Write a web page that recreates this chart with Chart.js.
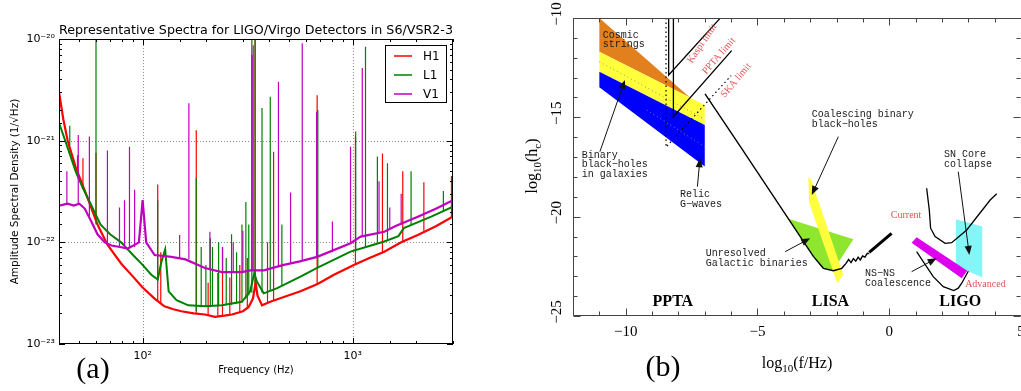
<!DOCTYPE html>
<html><head><meta charset="utf-8">
<script src="https://cdn.jsdelivr.net/npm/chart.js@4.4.0/dist/chart.umd.min.js"></script>
<style>
html,body{margin:0;padding:0;background:#fff;width:1021px;height:391px;overflow:hidden;}
#wa{position:absolute;left:0;top:0;width:470px;height:391px;}
#wb{position:absolute;left:470px;top:0;width:551px;height:391px;}
</style></head><body>
<div id="wa"><canvas id="ca"></canvas></div>
<div id="wb"><canvas id="cb"></canvas></div>
<script>
// ---------------- Panel (a) data ----------------
const H1_FREQ = [40,42,44,48,52,56,61,68,79,90,100,114,127,140,153,175,198,221,245,266,300,319,335,345,352,370,405,470,564,680,814,1012,1200,1413,1700,2040,2500,3000];
const H1_ASD  = [3.0e-21,1.6e-21,1.0e-21,5.5e-22,3.6e-22,2.4e-22,1.5e-22,9.5e-23,6.2e-23,4.6e-23,3.6e-23,2.8e-23,2.35e-23,2.2e-23,2.1e-23,2.0e-23,1.95e-23,1.85e-23,1.9e-23,1.95e-23,2.1e-23,2.3e-23,2.8e-23,4.0e-23,3.0e-23,2.4e-23,2.6e-23,2.9e-23,3.3e-23,3.9e-23,4.8e-23,6.0e-23,7.0e-23,8.1e-23,1.0e-22,1.18e-22,1.45e-22,1.8e-22];
const L1_FREQ = [40,44,48,52,56,63,70,79,90,100,110,118,123,128,133,145,165,200,238,297,325,340,350,377,437,564,677,976,1200,1413,1650,1750,2362,3000];
const L1_ASD  = [1.5e-21,8.5e-22,5.0e-22,3.4e-22,2.5e-22,1.5e-22,1.2e-22,1.0e-22,7.5e-23,6.0e-23,4.8e-23,4.3e-23,6.5e-23,8.5e-23,3.3e-23,2.7e-23,2.4e-23,2.35e-23,2.4e-23,2.6e-23,3.3e-23,5.0e-23,4.1e-23,3.15e-23,3.55e-23,4.6e-23,5.6e-23,8.1e-23,9.2e-23,1.02e-22,1.15e-22,1.38e-22,1.79e-22,2.24e-22];
const V1_FREQ = [40,44,47,50,53,57,61,66,71,78,85,92,96,100,104,114,137,160,198,238,297,325,377,470,560,677,976,1090,1413,1600,2040,2500,3000];
const V1_ASD  = [2.3e-22,2.4e-22,2.3e-22,2.4e-22,2.15e-22,1.6e-22,1.2e-22,1.0e-22,9.3e-23,9.0e-23,8.7e-23,9.5e-23,1.0e-22,2.6e-22,1.0e-22,7.5e-23,7.2e-23,6.8e-23,5.6e-23,5.1e-23,5.1e-23,5.3e-23,5.3e-23,6.0e-23,6.5e-23,7.2e-23,9.8e-23,1.14e-22,1.27e-22,1.45e-22,1.79e-22,2.15e-22,2.6e-22];
// spectral lines: [frequency, floor, peak]
const H1_LINES = [[49,4.5e-22,7.2e-22],[52,3.6e-22,6.7e-22],[60,1.6e-22,7.6e-22],[118,2.6e-23,3.7e-22],[122,2.5e-23,8e-23],[180,2.0e-23,1.27e-21],[205,1.9e-23,4e-23],[228,1.9e-23,5e-23],[240,1.9e-23,9e-23],[260,1.95e-23,4.5e-23],[290,2.05e-23,6e-23],[315,2.3e-23,7e-23],[343,3.5e-23,1.2e-20],[393,2.5e-23,1e-22],[420,2.7e-23,7.8e-22],[677,3.9e-23,2.8e-21],[1030,6e-23,1.1e-21],[1385,8e-23,7.5e-22],[1730,1e-22,5e-22],[2180,1.3e-22,3.9e-22],[2950,1.75e-22,4.5e-22]];
const L1_LINES = [[45,9e-22,1.4e-21],[60,1.5e-22,1.2e-20],[118,4.3e-23,2.6e-22],[180,2.1e-23,4.3e-22],[190,2.3e-23,9e-23],[200,2.35e-23,6e-23],[210,2.3e-23,1.1e-22],[215,2.35e-23,9e-23],[230,2.4e-23,1.0e-22],[250,2.4e-23,7e-23],[265,2.4e-23,1.2e-22],[280,2.5e-23,8e-23],[297,2.6e-23,1.5e-22],[310,2.8e-23,2.5e-22],[320,3e-23,1.5e-22],[331,3.2e-23,1.2e-20],[343,4e-23,1.2e-20],[370,3.2e-23,2.1e-21],[405,3.3e-23,2.7e-21],[460,3.7e-23,1.5e-22],[682,5.6e-23,2.0e-21],[1033,8.2e-23,1.23e-21],[1150,9e-23,8.4e-21],[1310,9.8e-23,7e-22],[1463,1.05e-22,6e-22],[1895,1.5e-22,5e-22],[2700,2e-22,3.2e-22]];
const V1_LINES = [[43.6,2.4e-22,5e-22],[49.4,2.4e-22,1.14e-21],[55.8,1.8e-22,1.1e-21],[68,1.0e-22,8e-22],[77.6,9e-23,2.2e-22],[82,8.8e-23,2.6e-22],[86.6,8.7e-23,8.7e-22],[91.6,9e-23,3.3e-22],[150,7e-23,1.18e-22],[166,6.8e-23,2.33e-21],[209,5.5e-23,1.27e-22],[240,5.1e-23,9e-23],[270,5.1e-23,1.0e-22],[300,5.2e-23,1.3e-22],[331,5.3e-23,7e-21],[336,5.3e-23,8.7e-21],[443,5.8e-23,3.8e-21],[506,6.2e-23,3.1e-22],[575,6.5e-23,9.1e-21],[673,7.2e-23,1.93e-21],[800,8e-23,1.6e-22],[976,9.8e-23,8.7e-22],[1110,1.15e-22,5.2e-21],[1334,1.25e-22,4e-22],[1500,1.35e-22,2.2e-22],[1700,1.5e-22,3e-22]];
const SERIES_NAMES = ['H1','L1','V1'];
const SERIES_COLORS = ['#ff0000','#008000','#bf00bf'];
const A_X_TICK_EXP = [2,3];
const A_X_TICK_LABELS = ['10²','10³'];
const A_Y_TICK_EXP = [-23,-22,-21,-20];
const A_Y_TICK_LABELS = ['10⁻²³','10⁻²²','10⁻²¹','10⁻²⁰'];

// ---------------- Panel (b) data (log10 f, log10 hc) ----------------
const ORANGE_BAND = [[-11,-10],[-7.56,-14.0],[-11,-11.7]];
const YELLOW_BAND = [[-11,-11.7],[-7,-14.38],[-7,-15.39],[-11,-12.7]];
const BLUE_BAND   = [[-11,-12.7],[-7,-15.39],[-7,-17.48],[-11,-13.49]];
const INNER_DOTS_1 = [[-11,-12.2],[-7,-15.1]];
const INNER_DOTS_2 = [[-9.2,-14.63],[-7,-16.48]];
const KASPI_LIMIT = [[-8.37,-10],[-8.37,-12.87],[-6.42,-10.02]];
const PPTA_LIMIT  = [[-8.19,-10],[-8.19,-14.97],[-5.98,-11.64]];
const SKA_LIMIT   = [[-8.47,-10],[-8.47,-16.5],[-6.0,-12.9]];
const LISA_CURVE = [[-6.99,-13.82],[-5.66,-16.45],[-3.83,-20.1],[-2.88,-22.0],[-2.5,-22.6],[-2.12,-22.72],[-1.8,-22.6],[-1.64,-22.35],[-1.54,-22.15],[-1.45,-22.31],[-1.36,-22.11],[-1.27,-22.24],[-1.18,-22.04],[-1.10,-22.18],[-1.01,-21.98],[-0.92,-22.04],[-0.83,-21.84],[-0.76,-21.86]];
const LISA_TAIL = [[-0.76,-21.8],[0.09,-20.84]];
const GALACTIC_BIN = [[-3.83,-20.1],[-1.36,-21.14],[-2.12,-22.7],[-2.5,-22.6],[-2.88,-22.0]];
const COAL_BBH = [[-3.07,-18.0],[-2.96,-18.15],[-1.75,-22.9],[-1.97,-23.35],[-3.04,-19.29]];
const LIGO_CURRENT = [[1.42,-18.57],[1.52,-19.66],[1.57,-20.58],[1.74,-21.0],[2.12,-21.34],[2.37,-21.31],[2.94,-20.67],[3.83,-19.16],[4.08,-18.85]];
const LIGO_ADVANCED = [[1.04,-21.76],[1.29,-22.26],[1.67,-23.02],[2.05,-23.52],[2.45,-23.72],[2.62,-23.6],[2.75,-23.35],[3.0,-22.75]];
const NSNS_BAND = [[0.85,-21.31],[1.04,-21.04],[2.96,-22.72],[2.75,-23.1]];
const SN_BOX = [[2.53,-20.13],[3.53,-20.5],[3.53,-23.05],[2.53,-22.5]];
const B_X_TICK_VALS = [-10,-5,0,5];
const B_X_TICK_LABELS = ['−10','−5','0','5'];
const B_Y_TICK_VALS = [-10,-15,-20,-25];
const B_Y_TICK_LABELS = ['−10','−15','−20','−25'];
// annotations: [text, x, y]
const NOTES = [
 ['Cosmic',-10.87,-10.86],['strings',-10.87,-11.32],
 ['Binary',-11.67,-16.89],['black−holes',-11.67,-17.36],['in galaxies',-11.67,-17.85],
 ['Relic',-7.94,-18.86],['G−waves',-7.94,-19.38],
 ['Coalescing binary',-2.94,-14.85],['black−holes',-2.94,-15.33],
 ['SN Core',2.08,-16.84],['collapse',2.08,-17.35],
 ['Unresolved',-6.96,-21.84],['Galactic binaries',-6.96,-22.35],
 ['NS−NS',-0.92,-22.85],['Coalescence',-0.92,-23.35]
];
const RED_NOTES = [['Current',0.06,-19.91],['Advanced',2.88,-23.39]];
const LIMIT_NOTES = [['Kaspi limit',-7.10,-11.29,-56],['PPTA limit',-6.46,-11.91,-49],['SKA limit',-5.81,-13.14,-50]];
const BAND_NAMES = [['PPTA',-8.98,-24.31],['LISA',-2.94,-24.28],['LIGO',1.90,-24.28]];
// arrows: [x tail, y tail, x head, y head]
const ARROWS = [[-10.98,-16.73,-10.03,-13.12],[-7.28,-18.49,-7.18,-17.06],[-1.93,-15.97,-2.94,-18.91],[-3.95,-21.76,-3.0,-21.09],[2.62,-17.74,3.04,-21.93],[0.85,-22.77,1.80,-22.09]];

// ---------------- helpers ----------------
const xy = (fr, v) => fr.map((f,i)=>({x:f,y:v[i]}));
const linePts = sp => { const o=[]; sp.forEach(([f,b,p])=>{o.push({x:f,y:b},{x:f,y:p},{x:f,y:null});}); return o; };
const poly = arr => arr.map(([x,y])=>({x,y}));
const isDecade = v => { const e=Math.log10(v); return Math.abs(e-Math.round(e))<1e-6; };

// ---------------- Chart (a) ----------------
const leftDecor = {
  id:'leftDecor',
  beforeDatasetsDraw(chart){
    const {ctx, chartArea:a, scales:{x:xs,y:ys}} = chart;
    ctx.save(); ctx.strokeStyle='#8c8c8c'; ctx.lineWidth=1; ctx.setLineDash([1,2]);
    xs.ticks.forEach(t=>{ if(isDecade(t.value)&&t.value>xs.min&&t.value<xs.max){ const p=Math.round(xs.getPixelForValue(t.value))+0.5; ctx.beginPath();ctx.moveTo(p,a.top);ctx.lineTo(p,a.bottom);ctx.stroke(); }});
    ys.ticks.forEach(t=>{ if(isDecade(t.value)&&t.value>ys.min*1.001&&t.value<ys.max*0.999){ const p=Math.round(ys.getPixelForValue(t.value))+0.5; ctx.beginPath();ctx.moveTo(a.left,p);ctx.lineTo(a.right,p);ctx.stroke(); }});
    ctx.restore();
  },
  afterDatasetsDraw(chart){
    const {ctx, chartArea:a, scales:{x:xs,y:ys}} = chart;
    ctx.save(); ctx.strokeStyle='#000'; ctx.lineWidth=1;
    ctx.strokeRect(Math.round(a.left)+0.5, Math.round(a.top)+0.5, Math.round(a.width)-1, Math.round(a.height)-1);
    ctx.beginPath();
    xs.ticks.forEach(t=>{ const p=Math.round(xs.getPixelForValue(t.value))+0.5; const L=isDecade(t.value)?6:3; ctx.moveTo(p,a.bottom);ctx.lineTo(p,a.bottom-L);ctx.moveTo(p,a.top);ctx.lineTo(p,a.top+L); });
    ys.ticks.forEach(t=>{ const p=Math.round(ys.getPixelForValue(t.value))+0.5; const L=isDecade(t.value)?6:3; ctx.moveTo(a.left,p);ctx.lineTo(a.left+L,p);ctx.moveTo(a.right,p);ctx.lineTo(a.right-L,p); });
    ctx.stroke();
    // legend
    ctx.fillStyle='#fff'; ctx.fillRect(385,45,61,57);
    ctx.strokeRect(385.5,45.5,61,57);
    ctx.font='12px "DejaVu Sans"'; ctx.textBaseline='middle';
    SERIES_NAMES.forEach((n,i)=>{ const yy=56+i*19; ctx.strokeStyle=SERIES_COLORS[i]; ctx.lineWidth=1.5; ctx.beginPath();ctx.moveTo(394,yy);ctx.lineTo(412,yy);ctx.stroke(); ctx.fillStyle='#000'; ctx.fillText(n,423,yy+1); });
    ctx.restore();
  },
  afterDraw(chart){
    const ctx=chart.ctx; ctx.save(); ctx.fillStyle='#000'; ctx.font='30px "Liberation Serif"'; ctx.textAlign='center'; ctx.textBaseline='middle';
    ctx.fillText('(a)',93,370); ctx.restore();
  }
};

function seriesSets(){
  const base=[[H1_FREQ,H1_ASD,H1_LINES],[L1_FREQ,L1_ASD,L1_LINES],[V1_FREQ,V1_ASD,V1_LINES]];
  const widths=[2.2,2.0,2.2];
  const ds=[];
  base.forEach(([f,v,l],i)=>{
    const ord = 10 - i*3;
    ds.push({label:SERIES_NAMES[i], data:xy(f,v), borderColor:SERIES_COLORS[i], borderWidth:widths[i], pointRadius:0, fill:false, tension:0, order:ord});
    ds.push({label:SERIES_NAMES[i]+' lines', data:linePts(l), borderColor:SERIES_COLORS[i], borderWidth:1.2, pointRadius:0, fill:false, spanGaps:false, order:ord-1});
  });
  return ds;
}

new Chart(document.getElementById('ca'), {
  type:'line',
  data:{datasets:seriesSets()},
  options:{
    responsive:true, maintainAspectRatio:false, animation:false, devicePixelRatio:1,
    layout:{padding:{left:0,right:17,top:0,bottom:0}},
    plugins:{legend:{display:false}, tooltip:{enabled:false},
      title:{display:true, fullSize:false, text:'Representative Spectra for LIGO/Virgo Detectors in S6/VSR2-3', color:'#000', font:{family:'DejaVu Sans', size:12.7, weight:'normal'}, padding:{top:23,bottom:0.8}}},
    scales:{
      x:{type:'logarithmic', min:40, max:3000, grid:{display:false, drawTicks:false}, border:{display:false},
         ticks:{autoSkip:false, maxRotation:0, minRotation:0, padding:6, color:'#000', font:{family:'DejaVu Sans', size:11},
           callback:(v)=>{ if(!isDecade(v)) return ''; const i=A_X_TICK_EXP.indexOf(Math.round(Math.log10(v))); return i>=0?A_X_TICK_LABELS[i]:''; }},
         title:{display:true, text:'Frequency (Hz)', color:'#000', font:{family:'DejaVu Sans', size:10}, padding:{top:0,bottom:15}},
         afterFit:s=>{s.height=47; s.paddingLeft=0; s.paddingRight=0;}},
      y:{type:'logarithmic', min:1e-23, max:1e-20, grid:{display:false, drawTicks:false}, border:{display:false},
         ticks:{autoSkip:false, padding:4, color:'#000', font:{family:'DejaVu Sans', size:11},
           callback:(v)=>{ if(!isDecade(v)) return ''; const i=A_Y_TICK_EXP.indexOf(Math.round(Math.log10(v))); return i>=0?A_Y_TICK_LABELS[i]:''; }},
         title:{display:true, text:'Amplitude Spectral Density (1/√Hz)', color:'#000', font:{family:'DejaVu Sans', size:10.5}, padding:{top:9,bottom:0}},
         afterFit:s=>{s.width=59; s.paddingTop=0; s.paddingBottom=0;}}
    }
  },
  plugins:[leftDecor]
});

// ---------------- Chart (b) ----------------
function arrow(ctx,x1,y1,x2,y2){
  const an=Math.atan2(y2-y1,x2-x1), L=9, W=3.6, c=Math.cos(an), s=Math.sin(an);
  ctx.beginPath(); ctx.moveTo(x1,y1); ctx.lineTo(x2-c*L*0.7,y2-s*L*0.7); ctx.stroke();
  ctx.beginPath(); ctx.moveTo(x2,y2); ctx.lineTo(x2-L*c+W*s,y2-L*s-W*c); ctx.lineTo(x2-L*c-W*s,y2-L*s+W*c); ctx.closePath(); ctx.fill();
}
function subText(ctx, parts, cx, cy){
  let w=0; parts.forEach(p=>{ctx.font=p[1]+'px "Liberation Serif"'; w+=ctx.measureText(p[0]).width;});
  let x=cx-w/2; ctx.textAlign='left'; ctx.textBaseline='alphabetic';
  parts.forEach(p=>{ctx.font=p[1]+'px "Liberation Serif"'; ctx.fillText(p[0],x,cy+p[2]); x+=ctx.measureText(p[0]).width;});
}
const rightDecor = {
  id:'rightDecor',
  afterDatasetsDraw(chart){
    const {ctx, chartArea:a, scales:{x:xs,y:ys}} = chart;
    const X=v=>xs.getPixelForValue(v), Y=v=>ys.getPixelForValue(v);
    ctx.save();
    ctx.strokeStyle='#111'; ctx.fillStyle='#111'; ctx.lineWidth=1;
    ARROWS.forEach(([x1,y1,x2,y2])=>arrow(ctx,X(x1),Y(y1),X(x2),Y(y2)));
    ctx.font='10px "Liberation Mono"'; ctx.textAlign='left'; ctx.textBaseline='middle'; ctx.fillStyle='#1a1a1a';
    NOTES.forEach(([t,x,y])=>ctx.fillText(t,X(x),Y(y)));
    ctx.fillStyle='#e05252'; ctx.font='10px "Liberation Serif"';
    RED_NOTES.forEach(([t,x,y])=>ctx.fillText(t,X(x),Y(y)));
    ctx.textAlign='center';
    LIMIT_NOTES.forEach(([t,x,y,r])=>{ctx.save(); ctx.translate(X(x),Y(y)); ctx.rotate(r*Math.PI/180); ctx.fillText(t,0,0); ctx.restore();});
    ctx.fillStyle='#000'; ctx.font='bold 16px "Liberation Serif"'; ctx.textAlign='left';
    BAND_NAMES.forEach(([t,x,y])=>ctx.fillText(t,X(x),Y(y)));
    // frame & ticks
    ctx.strokeStyle='#444'; ctx.lineWidth=1;
    const L0=Math.round(a.left)+0.5, T0=Math.round(a.top)+0.5, B0=Math.round(a.bottom)-0.5, R0=Math.round(a.right)-0.5;
    ctx.beginPath(); ctx.moveTo(L0,T0); ctx.lineTo(a.right,T0); ctx.moveTo(L0,T0); ctx.lineTo(L0,B0); ctx.lineTo(a.right,B0); ctx.stroke();
    ctx.beginPath();
    for(let v=Math.ceil(xs.min); v<=xs.max; v++){ const p=Math.round(X(v))+0.5; const L=(v%5===0)?7:4; ctx.moveTo(p,B0); ctx.lineTo(p,B0-L); ctx.moveTo(p,T0); ctx.lineTo(p,T0+L); }
    for(let v=Math.ceil(ys.min); v<=ys.max; v++){ const p=Math.round(Y(v))+0.5; const L=(v%5===0)?7:4; ctx.moveTo(L0,p); ctx.lineTo(L0+L,p); ctx.moveTo(R0,p); ctx.lineTo(R0-L,p); }
    ctx.stroke();
    ctx.restore();
  },
  afterDraw(chart){
    const {ctx, chartArea:a, scales:{x:xs,y:ys}} = chart;
    ctx.save(); ctx.fillStyle='#000';
    ctx.font='15px "Liberation Serif"'; ctx.textAlign='center'; ctx.textBaseline='middle';
    B_X_TICK_VALS.forEach((v,i)=>ctx.fillText(B_X_TICK_LABELS[i], xs.getPixelForValue(v), a.bottom+16));
    B_Y_TICK_VALS.forEach((v,i)=>{ ctx.save(); ctx.translate(a.left-16, ys.getPixelForValue(v)-4); ctx.rotate(-Math.PI/2); ctx.fillText(B_Y_TICK_LABELS[i],0,0); ctx.restore(); });
    subText(ctx,[['log',16,0],['10',11,4],['(f/Hz)',16,0]], (a.left+a.right)/2, 368);
    ctx.save(); ctx.translate(67,166); ctx.rotate(-Math.PI/2);
    subText(ctx,[['log',16,0],['10',11,4],['(h',16,0],['c',11,4],[')',16,0]],0,0); ctx.restore();
    ctx.font='30px "Liberation Serif"'; ctx.textAlign='center'; ctx.textBaseline='middle';
    ctx.fillText('(b)',193,368);
    ctx.restore();
  }
};
const shape = (arr,color,ord) => ({data:poly(arr), backgroundColor:color, borderWidth:0, borderColor:'rgba(0,0,0,0)', fill:'shape', pointRadius:0, order:ord});
const path = (arr,color,w,ord,dash) => ({data:poly(arr), borderColor:color, borderWidth:w, borderDash:dash||[], fill:false, pointRadius:0, order:ord});

new Chart(document.getElementById('cb'), {
  type:'line',
  data:{datasets:[
    shape(ORANGE_BAND,'#e2801e',100),
    shape(YELLOW_BAND,'#ffff3c',99),
    shape(BLUE_BAND,'#0000ff',98),
    path(INNER_DOTS_1,'#9a9a60',1,97,[1,3]),
    path(INNER_DOTS_2,'#7a7ab0',1,96,[1,3]),
    path(SKA_LIMIT,'#000',1.2,95,[1.5,3]),
    path(KASPI_LIMIT,'#000',1.3,94),
    path(PPTA_LIMIT,'#000',1.3,93),
    shape(GALACTIC_BIN,'#8ee62e',90),
    shape(COAL_BBH,'#ffff3c',89),
    path(LISA_CURVE,'#000',1.4,88),
    path(LISA_TAIL,'#000',3,87),
    shape(SN_BOX,'#85f5f8',80),
    path(LIGO_ADVANCED,'#000',1.3,79),
    path(LIGO_CURRENT,'#000',1.3,78),
    shape(NSNS_BAND,'#dd00ee',77)
  ]},
  options:{
    responsive:true, maintainAspectRatio:false, animation:false, devicePixelRatio:1,
    layout:{padding:{left:0,right:0,top:18,bottom:0}},
    plugins:{legend:{display:false}, tooltip:{enabled:false}, title:{display:false}},
    scales:{
      x:{type:'linear', min:-12, max:5, grid:{display:false, drawTicks:false}, border:{display:false}, ticks:{display:false},
         afterFit:s=>{s.height=75; s.paddingLeft=0; s.paddingRight=0;}},
      y:{type:'linear', min:-25, max:-10, grid:{display:false, drawTicks:false}, border:{display:false}, ticks:{display:false},
         afterFit:s=>{s.width=103; s.paddingTop=0; s.paddingBottom=0;}}
    }
  },
  plugins:[rightDecor]
});
</script></body></html>
